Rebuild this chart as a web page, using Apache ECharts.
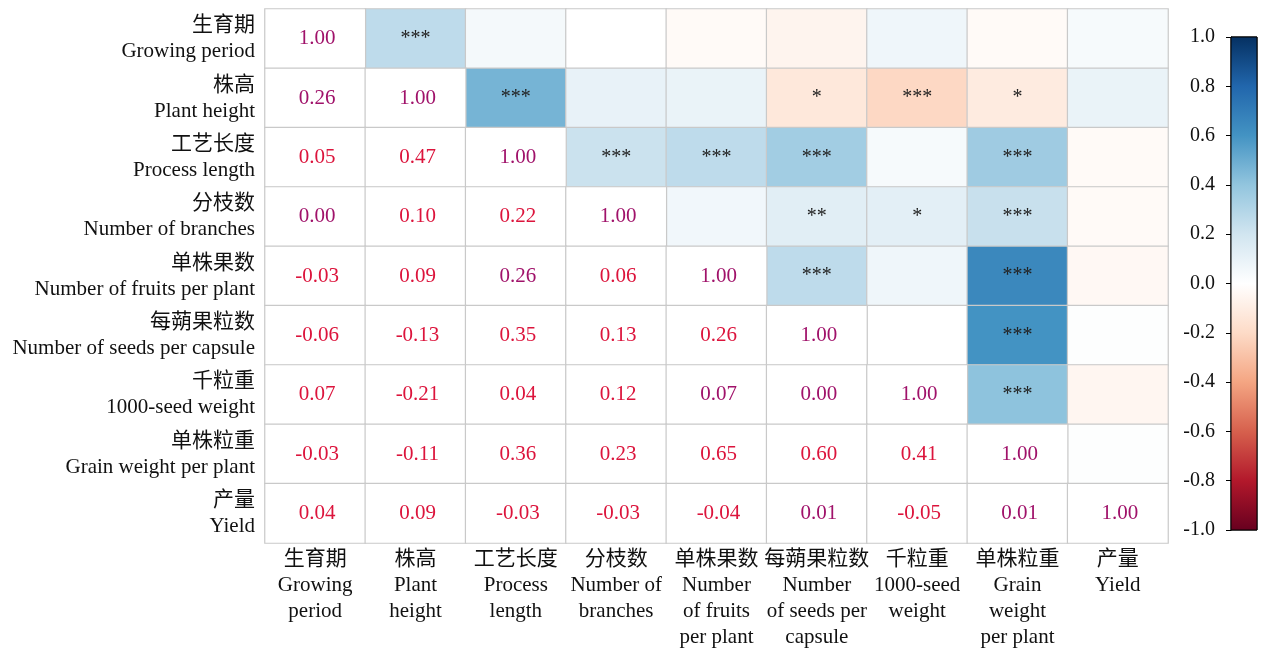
<!DOCTYPE html>
<html>
<head>
<meta charset="utf-8">
<script src="https://cdn.jsdelivr.net/npm/echarts@6/dist/echarts.min.js"></script>
<style>html,body{margin:0;padding:0;background:#fff;}#c{width:1265px;height:648px;}</style>
</head>
<body>
<div id="c"></div>
<script>
// Category labels
const yLabels = [
  '生育期\nGrowing period', '株高\nPlant height', '工艺长度\nProcess length',
  '分枝数\nNumber of branches', '单株果数\nNumber of fruits per plant',
  '每蒴果粒数\nNumber of seeds per capsule', '千粒重\n1000-seed weight',
  '单株粒重\nGrain weight per plant', '产量\nYield'
];
const xLabels = [
  '生育期\nGrowing\nperiod', '株高\nPlant\nheight', '工艺长度\nProcess\nlength',
  '分枝数\nNumber of\nbranches', '单株果数\nNumber\nof fruits\nper plant',
  '每蒴果粒数\nNumber\nof seeds per\ncapsule', '千粒重\n1000-seed\nweight',
  '单株粒重\nGrain\nweight\nper plant', '产量\nYield'
];
// Lower-triangle correlation values (row i, columns 0..i)
const r0 = [1.00];
const r1 = [0.26, 1.00];
const r2 = [0.05, 0.47, 1.00];
const r3 = [0.00, 0.10, 0.22, 1.00];
const r4 = [-0.03, 0.09, 0.26, 0.06, 1.00];
const r5 = [-0.06, -0.13, 0.35, 0.13, 0.26, 1.00];
const r6 = [0.07, -0.21, 0.04, 0.12, 0.07, 0.00, 1.00];
const r7 = [-0.03, -0.11, 0.36, 0.23, 0.65, 0.60, 0.41, 1.00];
const r8 = [0.04, 0.09, -0.03, -0.03, -0.04, 0.01, -0.05, 0.01, 1.00];
const corr = [r0, r1, r2, r3, r4, r5, r6, r7, r8];
// Significance marks for the upper triangle (row i, columns i+1..8)
const s0 = ['***', '', '', '', '', '', '', ''];
const s1 = ['***', '', '', '*', '***', '*', ''];
const s2 = ['***', '***', '***', '', '***', ''];
const s3 = ['', '**', '*', '***', ''];
const s4 = ['***', '', '***', ''];
const s5 = ['', '***', ''];
const s6 = ['***', ''];
const s7 = [''];
const sig = [s0, s1, s2, s3, s4, s5, s6, s7, []];
// Text tone of the printed value (r = crimson, p = purple)
const tone = [
  ['p'], ['p','p'], ['r','r','p'], ['p','r','r','p'], ['r','r','p','r','p'],
  ['r','r','r','r','r','p'], ['r','r','r','r','p','p','p'],
  ['r','r','r','r','r','r','r','p'], ['r','r','r','r','r','p','r','p','p']
];
const colorbarTicks = { min: -1, max: 1, interval: 0.2 };

const rdbu = ['#67001f','#b2182b','#d6604d','#f4a582','#fddbc7','#ffffff','#d1e5f0','#92c5de','#4393c3','#2166ac','#053061'];
const serif = "'Liberation Serif','Times New Roman','Noto Sans CJK SC',serif";

const n = corr.length;
const upperData = [], lowerData = [];
for (let i = 0; i < n; i++) {
  for (let j = 0; j < n; j++) {
    if (j <= i) lowerData.push([j, i, corr[i][j], tone[i][j]]);
    else upperData.push([j, i, corr[j][i], sig[i][j - i - 1]]);
  }
}

const chart = echarts.init(document.getElementById('c'), null, { renderer: 'canvas' });
chart.setOption({
  backgroundColor: '#fff',
  animation: false,
  textStyle: { fontFamily: serif },
  grid: [
    { left: 265, top: 9, width: 903, height: 534, containLabel: false, outerBoundsMode: 'none' },
    { left: 1231, top: 37, width: 26, height: 493, show: true, borderColor: '#000', borderWidth: 1, backgroundColor: 'transparent', containLabel: false, outerBoundsMode: 'none' }
  ],
  xAxis: [
    { type: 'category', gridIndex: 0, data: xLabels, position: 'bottom',
      axisLine: { show: false }, axisTick: { show: false }, splitLine: { show: false },
      axisLabel: { interval: 0, color: '#111', fontSize: 21, lineHeight: 26, margin: 3, fontFamily: serif, verticalAlign: 'top' } },
    { type: 'value', gridIndex: 1, min: 0, max: 1, show: false }
  ],
  yAxis: [
    { type: 'category', gridIndex: 0, data: yLabels, inverse: true,
      axisLine: { show: false }, axisTick: { show: false }, splitLine: { show: false },
      axisLabel: { interval: 0, color: '#111', fontSize: 21, lineHeight: 26, margin: 10, align: 'right', padding: [4, 0, 0, 0], fontFamily: serif } },
    { type: 'value', gridIndex: 1, min: colorbarTicks.min, max: colorbarTicks.max, interval: colorbarTicks.interval,
      position: 'left', splitLine: { show: false },
      axisLine: { show: true, lineStyle: { color: '#000', width: 1 } },
      axisTick: { show: true, inside: false, length: 5, lineStyle: { color: '#000' } },
      axisLabel: { color: '#111', fontSize: 20, margin: 16, fontFamily: serif, formatter: v => v.toFixed(1) } }
  ],
  visualMap: {
    type: 'continuous', show: false, min: -1, max: 1, dimension: 2, seriesIndex: 0,
    inRange: { color: rdbu }
  },
  series: [
    {
      type: 'heatmap', xAxisIndex: 0, yAxisIndex: 0, data: upperData,
      itemStyle: { borderColor: '#c9c9c9', borderWidth: 1.2 },
      label: { show: true, formatter: p => p.value[3], color: '#222', fontSize: 20, fontFamily: serif, offset: [0, 0] },
      emphasis: { disabled: true }
    },
    {
      type: 'heatmap', xAxisIndex: 0, yAxisIndex: 0, data: lowerData,
      itemStyle: { color: '#ffffff', borderColor: '#c9c9c9', borderWidth: 1.2 },
      label: { show: true, fontSize: 21, fontFamily: serif, offset: [2, 0],
        formatter: p => '{' + p.value[3] + '|' + p.value[2].toFixed(2) + '}',
        rich: { r: { color: '#dc143c', fontSize: 21, fontFamily: serif }, p: { color: '#a0126a', fontSize: 21, fontFamily: serif } } },
      emphasis: { disabled: true }
    },
    {
      type: 'custom', xAxisIndex: 1, yAxisIndex: 1, data: [[0, 0]], silent: true,
      renderItem: function (params, api) {
        const a = api.coord([0, colorbarTicks.max]);
        const b = api.coord([1, colorbarTicks.min]);
        const stops = rdbu.slice().reverse().map((c, k) => ({ offset: k / (rdbu.length - 1), color: c }));
        return { type: 'rect', shape: { x: a[0], y: a[1], width: b[0] - a[0], height: b[1] - a[1] },
          style: { fill: new echarts.graphic.LinearGradient(0, 0, 0, 1, stops), stroke: '#000', lineWidth: 1 } };
      }
    }
  ]
});
</script>
</body>
</html>
